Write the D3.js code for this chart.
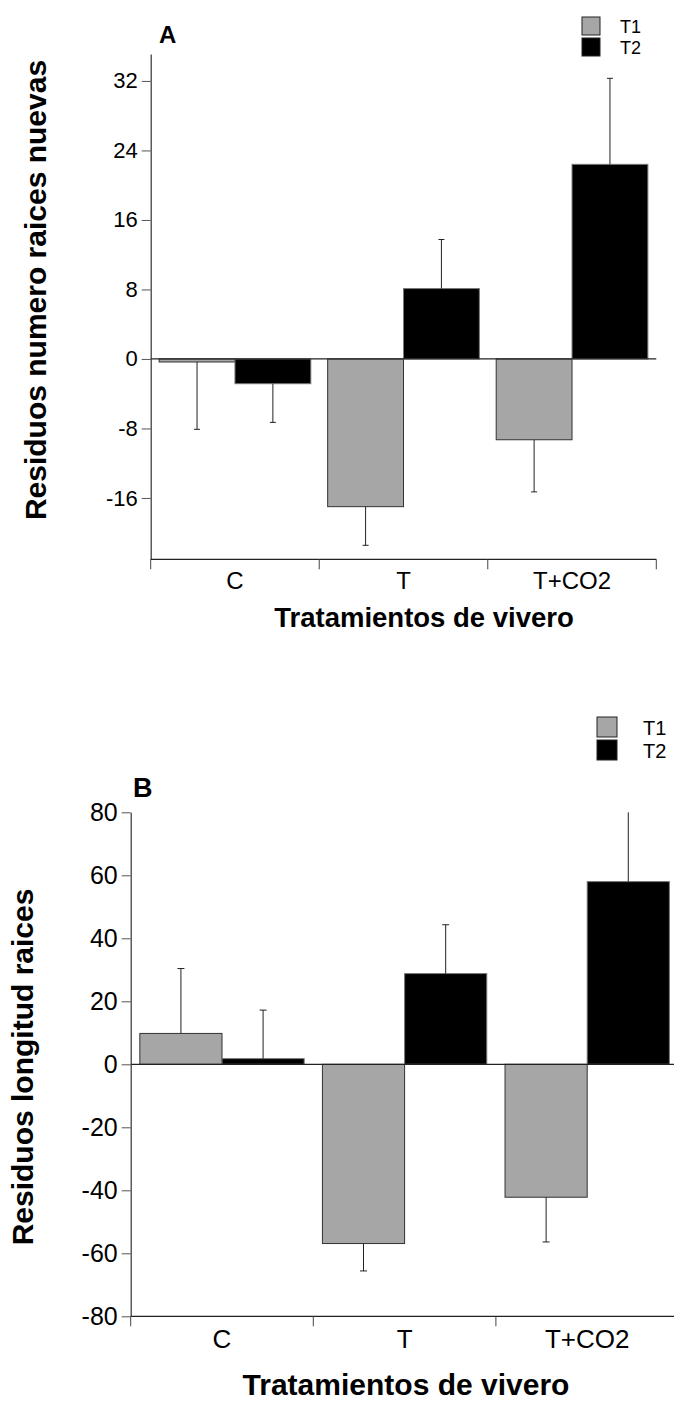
<!DOCTYPE html>
<html>
<head>
<meta charset="utf-8">
<script src="https://cdn.jsdelivr.net/npm/d3@7"></script>
<style>
  body { margin: 0; background: #fff; }
  svg text { font-family: "Liberation Sans", Arial, sans-serif; }
</style>
</head>
<body>
<div id="chart"></div>
<script>
// Categories and series shared by both panels
const categories = ['C', 'T', 'T+CO2'];
const seriesNames = ['T1', 'T2'];
const seriesColors = ['#a6a6a6', '#000000'];

// Panel A: residuos numero raices nuevas (mean, error)
const aT1 = [-0.35, -17.0, -9.3];
const aT1Err = [7.75, 4.45, 6.0];
const aT2 = [-2.85, 8.1, 22.4];
const aT2Err = [4.45, 5.65, 9.9];
const aTicks = [-16, -8, 0, 8, 16, 24, 32];

// Panel B: residuos longitud raices (mean, error)
const bT1 = [9.8, -56.9, -42.2];
const bT1Err = [20.6, 8.7, 14.2];
const bT2 = [1.8, 28.8, 58.0];
const bT2Err = [15.4, 15.5, 22.0];
const bTicks = [-80, -60, -40, -20, 0, 20, 40, 60, 80];

const svg = d3.select('#chart').append('svg')
    .attr('width', 674)
    .attr('height', 1403);

function drawPanel(cfg) {
    const g = svg.append('g');

    const x = d3.scaleBand().domain(categories).range([cfg.left, cfg.right]).padding(0);
    const xs = d3.scaleBand().domain(seriesNames)
        .range([x.bandwidth() * 0.05, x.bandwidth() * 0.95]).padding(0);
    const y = d3.scaleLinear().domain(cfg.domain).range([cfg.bottom, cfg.top]);

    const rows = [];
    categories.forEach((c, i) => {
        cfg.series.forEach((s, k) => {
            rows.push({ cat: c, name: seriesNames[k], v: s.vals[i], e: s.errs[i], k: k });
        });
    });

    // bars
    g.selectAll('rect.bar').data(rows).enter().append('rect')
        .attr('class', 'bar')
        .attr('x', d => x(d.cat) + xs(d.name))
        .attr('width', xs.bandwidth())
        .attr('y', d => y(Math.max(0, d.v)))
        .attr('height', d => Math.abs(y(d.v) - y(0)))
        .attr('fill', d => seriesColors[d.k])
        .attr('stroke', d => d.k === 0 ? '#333' : '#777')
        .attr('stroke-width', 1);

    // error bars, drawn away from zero
    const err = g.selectAll('g.err').data(rows).enter().append('g').attr('class', 'err');
    const cx = d => x(d.cat) + xs(d.name) + xs.bandwidth() / 2;
    const tip = d => d.v >= 0 ? Math.min(d.v + d.e, cfg.domain[1]) : d.v - d.e;
    err.append('line')
        .attr('x1', cx).attr('x2', cx)
        .attr('y1', d => y(d.v)).attr('y2', d => y(tip(d)))
        .attr('stroke', '#222').attr('stroke-width', 1);
    err.filter(d => tip(d) < cfg.domain[1]).append('line')
        .attr('x1', d => cx(d) - cfg.cap).attr('x2', d => cx(d) + cfg.cap)
        .attr('y1', d => y(tip(d))).attr('y2', d => y(tip(d)))
        .attr('stroke', '#222').attr('stroke-width', 1);

    // zero line
    g.append('line')
        .attr('x1', cfg.left).attr('x2', cfg.right)
        .attr('y1', y(0)).attr('y2', y(0))
        .attr('stroke', '#222').attr('stroke-width', 1.2);

    // y axis, plain hyphen for negatives like the original
    const yAxis = g.append('g')
        .attr('transform', `translate(${cfg.left},0)`)
        .call(d3.axisLeft(y).tickValues(cfg.ticks).tickFormat(d => String(d))
            .tickSize(9).tickPadding(4).tickSizeOuter(0));
    yAxis.select('.domain').attr('stroke', '#333').attr('stroke-width', 1.2);
    yAxis.selectAll('.tick line').attr('stroke', '#555');
    yAxis.selectAll('.tick text')
        .attr('font-size', cfg.tickFont + 'px')
        .attr('fill', '#000')
        .style('font-family', '"Liberation Sans", Arial, sans-serif');

    // x axis at the bottom, ticks at band boundaries
    g.append('line')
        .attr('x1', cfg.left).attr('x2', cfg.right)
        .attr('y1', cfg.bottom).attr('y2', cfg.bottom)
        .attr('stroke', '#222').attr('stroke-width', 1.2);
    const bounds = categories.map(c => x(c)).concat([x.range()[1]]);
    g.selectAll('line.xtick').data(bounds).enter().append('line')
        .attr('class', 'xtick')
        .attr('x1', d => d).attr('x2', d => d)
        .attr('y1', cfg.bottom).attr('y2', cfg.bottom + 10)
        .attr('stroke', '#444');
    g.selectAll('text.cat').data(categories).enter().append('text')
        .attr('class', 'cat')
        .attr('x', d => x(d) + x.bandwidth() / 2)
        .attr('y', cfg.catY)
        .attr('text-anchor', 'middle')
        .attr('font-size', cfg.catFont + 'px')
        .text(d => d);

    // axis titles
    g.append('text')
        .attr('x', cfg.xTitleX).attr('y', cfg.xTitleY)
        .attr('text-anchor', 'middle')
        .attr('font-size', cfg.xTitleFont + 'px')
        .attr('font-weight', 'bold')
        .text('Tratamientos de vivero');
    g.append('text')
        .attr('transform', `translate(${cfg.yTitleX},${cfg.yTitleY}) rotate(-90)`)
        .attr('text-anchor', 'middle')
        .attr('font-size', '30px')
        .attr('font-weight', 'bold')
        .text(cfg.yTitle);

    // panel letter
    g.append('text')
        .attr('x', cfg.letterX).attr('y', cfg.letterY)
        .attr('font-size', cfg.letterFont + 'px')
        .attr('font-weight', 'bold')
        .text(cfg.letter);

    // legend
    const leg = g.selectAll('g.leg').data(seriesNames).enter().append('g')
        .attr('class', 'leg')
        .attr('transform', (d, i) => `translate(${cfg.legX},${cfg.legY + i * cfg.legStep})`);
    leg.append('rect')
        .attr('width', cfg.legBox).attr('height', cfg.legBox)
        .attr('fill', (d, i) => seriesColors[i])
        .attr('stroke', '#222').attr('stroke-width', 1);
    leg.append('text')
        .attr('x', cfg.legTextDx).attr('y', cfg.legBox - 2)
        .attr('font-size', cfg.legFont + 'px')
        .text(d => d);
}

drawPanel({
    letter: 'A', letterX: 159, letterY: 43, letterFont: 24,
    left: 150.7, right: 656.3, top: 54, bottom: 559.3,
    domain: [-23.06, 35.1], ticks: aTicks, tickFont: 22,
    series: [{ vals: aT1, errs: aT1Err }, { vals: aT2, errs: aT2Err }],
    cap: 3,
    catY: 589, catFont: 24,
    xTitleX: 424, xTitleY: 627, xTitleFont: 27.5,
    yTitle: 'Residuos numero raices nuevas', yTitleX: 46, yTitleY: 290,
    legX: 582, legY: 17, legStep: 21, legBox: 18, legTextDx: 38, legFont: 18
});

drawPanel({
    letter: 'B', letterX: 133, letterY: 797, letterFont: 27,
    left: 130.7, right: 678.5, top: 812.3, bottom: 1316.3,
    domain: [-80, 80], ticks: bTicks, tickFont: 25,
    series: [{ vals: bT1, errs: bT1Err }, { vals: bT2, errs: bT2Err }],
    cap: 3.5,
    catY: 1348, catFont: 26,
    xTitleX: 406, xTitleY: 1395, xTitleFont: 30,
    yTitle: 'Residuos longitud raices', yTitleX: 33, yTitleY: 1067,
    legX: 597, legY: 717, legStep: 23, legBox: 20, legTextDx: 46, legFont: 20
});
</script>
</body>
</html>
